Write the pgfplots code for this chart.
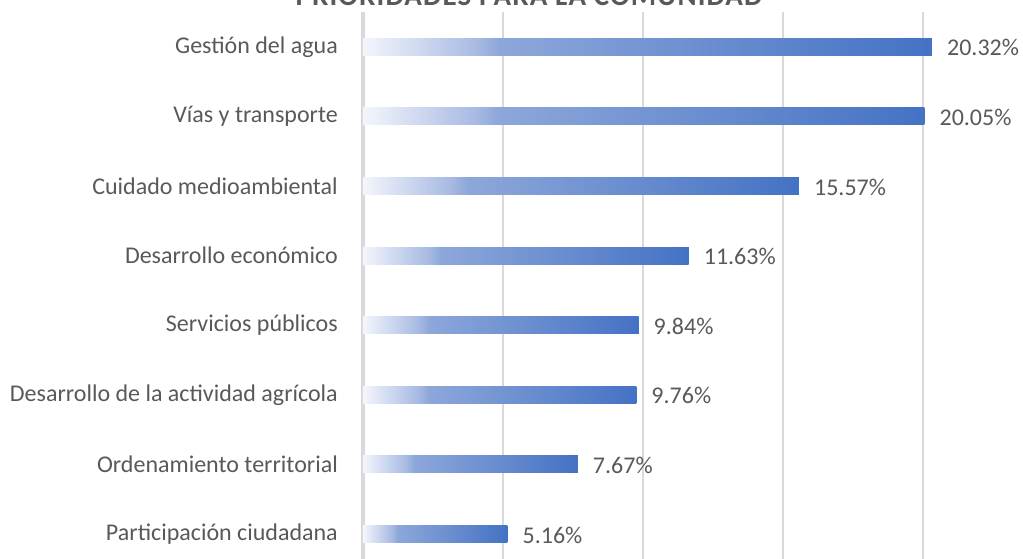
\documentclass[border=0pt]{standalone}
\usepackage{pgfplots}
\pgfplotsset{compat=1.18}
\usetikzlibrary{calc}
\usepackage{fontspec}
\setmainfont{Carlito}

\definecolor{txt}{HTML}{595959}
\definecolor{gridc}{HTML}{D9D9D9}
\definecolor{b0}{HTML}{F4F6FC}
\definecolor{b1}{HTML}{A8BAE3}
\definecolor{b2}{HTML}{8DA7DA}
\definecolor{b3}{HTML}{4472C4}
% gradient per bar: the path spans 25bp..75bp of the shading
\pgfdeclarehorizontalshading{barshade}{100bp}{color(0bp)=(b0); color(25bp)=(b0); color(35bp)=(b1); color(37bp)=(b2); color(75bp)=(b3); color(100bp)=(b3)}

\begin{document}
\begin{tikzpicture}
\begin{axis}[
    name=ax,
    scale only axis,
    width=700pt, height=556.8pt,
    xmin=0, xmax=25,
    ymin=-0.5, ymax=7.5,
    y dir=reverse,
    enlargelimits=false,
    xbar, bar width=17pt, bar shift=0pt,
    xtick={0,5,...,25}, xticklabels={},
    ytick={0,...,7},
    yticklabels={Gestión del agua, Vías y transporte, Cuidado medioambiental, Desarrollo económico, Servicios públicos, Desarrollo de la actividad agrícola, Ordenamiento territorial, Participación ciudadana},
    major tick length=0pt,
    yticklabel style={font=\fontsize{24}{28}\selectfont, text=txt, inner sep=0pt, anchor=east, xshift=-25pt},
    xmajorgrids,
    grid style={draw=gridc, line width=2pt},
    axis line style={draw=none},
    extra x ticks={0}, extra x tick labels={},
    extra x tick style={grid style={draw=gridc, line width=4.5pt}},
    /pgf/number format/assume math mode=true,
    nodes near coords={\pgfmathprintnumber[fixed, fixed zerofill, precision=2]{\pgfplotspointmeta}\%},
    every node near coord/.append style={font=\fontsize{24}{28}\selectfont, text=txt, anchor=west, inner sep=0pt, xshift=15pt, yshift=-1pt},
    every axis plot/.append style={draw=none, shade, shading=barshade},
]
% one plot per bar so that each bar gets its own gradient
\addplot coordinates {(20.32,0)};
\addplot coordinates {(20.05,1)};
\addplot coordinates {(15.57,2)};
\addplot coordinates {(11.63,3)};
\addplot coordinates {(9.84,4)};
\addplot coordinates {(9.76,5)};
\addplot coordinates {(7.67,6)};
\addplot coordinates {(5.16,7)};
\coordinate (o) at (axis cs:0,-0.5);
\end{axis}
\node[anchor=base, text=txt, font=\fontsize{29}{34}\selectfont\bfseries\addfontfeature{LetterSpace=4}, inner sep=0pt]
    at ($(o)+(166pt,6pt)$) {PRIORIDADES PARA LA COMUNIDAD};
\pgfresetboundingbox
\path[use as bounding box] ($(o)+(-363pt,12pt)$) rectangle ++(1023pt,-558pt);
\end{tikzpicture}
\end{document}
